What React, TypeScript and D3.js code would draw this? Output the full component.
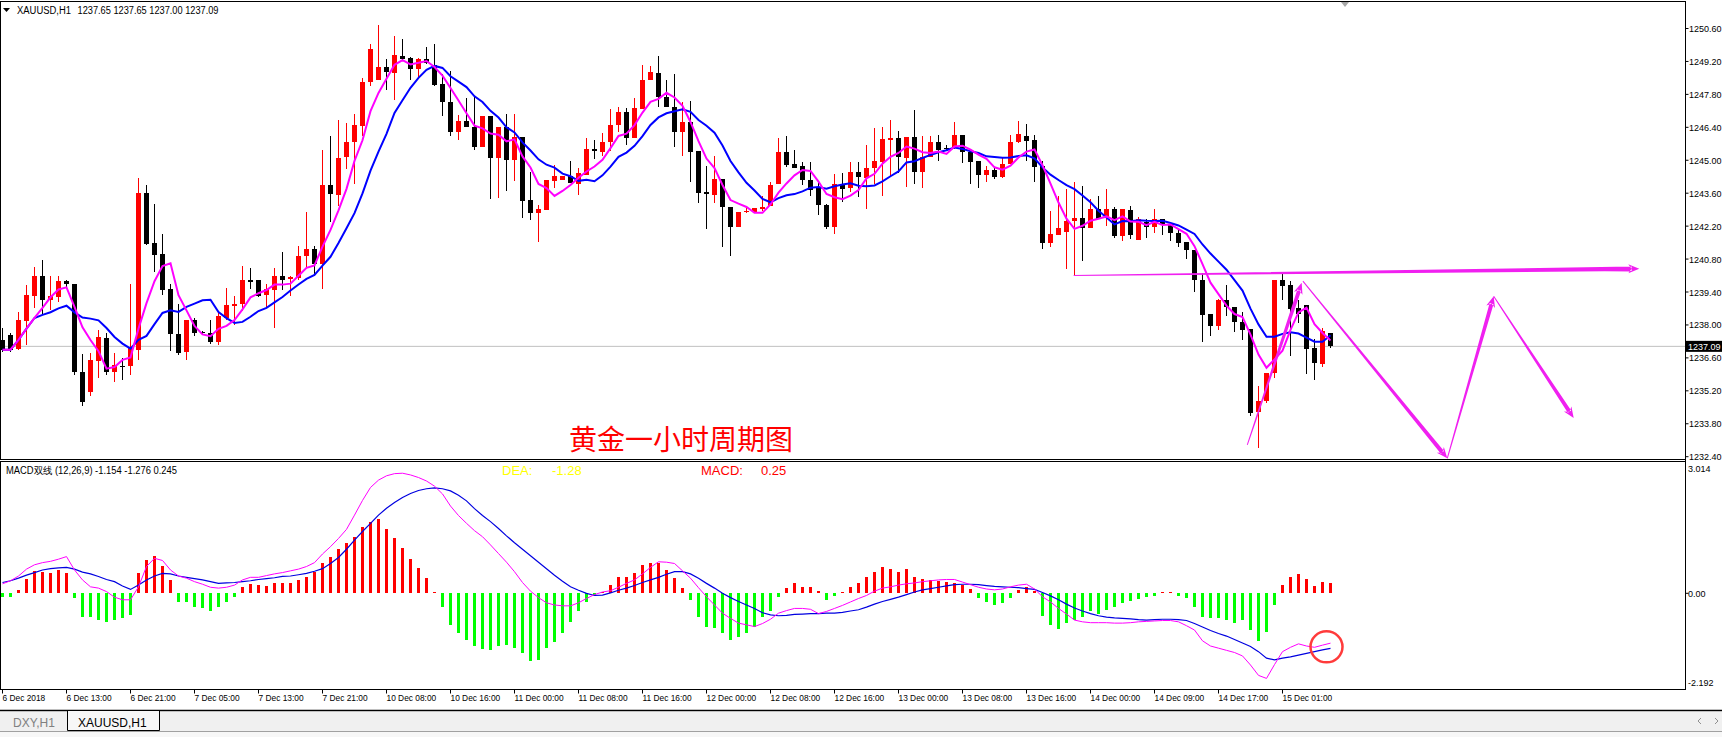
import * as d3 from "d3";

// H1 candles, 6 Dec 2018 05:00 .. 15 Dec 2018 (bar 0 .. 166)
const opens = [
  1237.38, 1237.59, 1236.98, 1238.16, 1239.25, 1240.10, 1239.08, 1239.18, 1239.85, 1239.76,
  1236.02, 1235.16, 1236.45, 1237.45, 1236.02, 1236.27, 1236.24, 1236.95, 1243.60, 1241.47,
  1241.00, 1239.51, 1237.63, 1236.83, 1238.19, 1237.70, 1237.67, 1237.26, 1238.30, 1238.80,
  1238.87, 1239.93, 1239.89, 1239.29, 1239.48, 1240.06, 1239.96, 1240.01, 1240.91, 1241.21,
  1240.57, 1243.94, 1243.51, 1245.14, 1245.77, 1246.47, 1248.33, 1248.42, 1248.97, 1248.72,
  1249.44, 1249.36, 1248.86, 1249.31, 1249.03, 1248.25, 1247.48, 1246.21, 1246.67, 1246.43,
  1245.57, 1246.89, 1245.11, 1246.43, 1245.02, 1246.00, 1243.30, 1242.76, 1242.88, 1244.10,
  1244.15, 1244.32, 1244.00, 1244.38, 1245.48, 1245.36, 1245.76, 1246.50, 1247.04, 1245.94,
  1247.18, 1248.39, 1248.70, 1247.68, 1247.25, 1246.21, 1246.61, 1245.38, 1243.63, 1243.51,
  1244.20, 1243.03, 1242.16, 1242.82, 1242.80, 1242.92, 1243.06, 1244.00, 1245.34, 1244.84,
  1244.74, 1244.18, 1243.80, 1243.09, 1242.16, 1243.95, 1243.84, 1244.48, 1244.25, 1244.67,
  1244.94, 1245.87, 1245.94, 1245.11, 1246.00, 1244.51, 1245.15, 1245.76, 1245.53, 1245.52,
  1246.07, 1245.36, 1244.95, 1244.38, 1244.58, 1244.27, 1244.84, 1245.76, 1246.04, 1245.86,
  1244.74, 1241.47, 1241.81, 1241.97, 1242.42, 1242.56, 1242.11, 1242.92, 1242.56, 1242.92,
  1241.78, 1242.88, 1241.61, 1242.38, 1242.18, 1242.52, 1242.28, 1241.92, 1241.52, 1241.18,
  1239.90, 1238.48, 1237.94, 1239.04, 1238.75, 1238.14, 1237.83, 1234.32, 1234.75, 1235.96,
  1239.93, 1239.68, 1238.73, 1238.86, 1237.02, 1236.35, 1237.65,
];
const highs = [
  1237.87, 1237.67, 1238.53, 1239.68, 1240.45, 1240.76, 1240.06, 1240.10, 1239.89, 1239.76,
  1236.78, 1236.82, 1237.80, 1237.67, 1236.82, 1236.61, 1239.76, 1244.24, 1243.94, 1243.13,
  1241.85, 1239.72, 1238.91, 1238.19, 1238.31, 1237.75, 1238.23, 1238.58, 1239.55, 1239.25,
  1240.49, 1240.40, 1239.93, 1239.72, 1240.40, 1241.08, 1240.07, 1241.34, 1242.80, 1241.35,
  1245.43, 1246.03, 1246.72, 1246.58, 1246.97, 1248.50, 1249.95, 1250.76, 1249.31, 1250.29,
  1250.14, 1249.40, 1249.36, 1249.82, 1249.95, 1248.67, 1248.81, 1246.92, 1247.65, 1247.71,
  1246.89, 1246.89, 1246.43, 1246.97, 1246.97, 1246.00, 1244.51, 1243.09, 1244.14, 1244.81,
  1244.32, 1244.96, 1244.67, 1245.94, 1245.86, 1246.14, 1247.18, 1247.25, 1247.22, 1247.64,
  1249.03, 1249.00, 1249.43, 1248.39, 1248.67, 1247.47, 1247.52, 1245.38, 1244.76, 1245.19,
  1244.20, 1243.03, 1242.82, 1243.06, 1242.95, 1243.49, 1244.08, 1245.94, 1246.02, 1245.42,
  1244.91, 1244.91, 1244.06, 1243.13, 1244.41, 1244.44, 1244.93, 1244.91, 1245.65, 1246.38,
  1246.40, 1246.71, 1246.26, 1246.00, 1247.14, 1246.02, 1246.04, 1246.07, 1245.65, 1246.61,
  1246.07, 1245.36, 1244.95, 1244.76, 1244.70, 1245.08, 1246.07, 1246.68, 1246.54, 1246.07,
  1244.98, 1242.85, 1243.46, 1243.77, 1244.08, 1243.89, 1243.34, 1243.48, 1243.77, 1243.03,
  1242.92, 1243.06, 1242.59, 1242.52, 1242.92, 1242.52, 1242.38, 1242.04, 1241.52, 1241.18,
  1240.22, 1238.48, 1239.11, 1239.68, 1238.75, 1238.54, 1237.83, 1235.39, 1235.96, 1239.90,
  1240.15, 1239.86, 1239.08, 1238.86, 1237.41, 1237.87, 1237.65,
];
const lows = [
  1236.85, 1236.86, 1236.95, 1237.16, 1238.70, 1238.48, 1238.62, 1238.97, 1239.63, 1235.88,
  1234.56, 1234.99, 1235.76, 1235.88, 1235.59, 1235.67, 1235.88, 1236.52, 1241.38, 1240.23,
  1239.29, 1236.91, 1236.74, 1236.49, 1237.55, 1237.63, 1237.21, 1237.16, 1238.23, 1238.01,
  1238.58, 1239.51, 1239.17, 1238.74, 1237.89, 1239.48, 1239.25, 1239.93, 1240.45, 1240.07,
  1239.51, 1242.36, 1243.06, 1244.62, 1243.98, 1246.04, 1248.17, 1248.39, 1248.00, 1247.58,
  1249.28, 1248.39, 1248.46, 1249.10, 1248.16, 1246.89, 1246.04, 1245.87, 1246.43, 1245.45,
  1245.57, 1243.34, 1243.39, 1243.69, 1244.10, 1242.53, 1242.45, 1241.52, 1242.88, 1243.80,
  1244.15, 1244.03, 1243.51, 1244.38, 1245.05, 1245.16, 1245.38, 1246.19, 1245.65, 1245.94,
  1247.18, 1248.39, 1247.25, 1247.25, 1245.55, 1245.16, 1244.06, 1243.20, 1242.07, 1243.20,
  1241.33, 1240.93, 1242.16, 1242.75, 1242.80, 1242.85, 1243.06, 1244.00, 1244.70, 1244.67,
  1243.95, 1243.49, 1242.66, 1242.07, 1241.85, 1243.23, 1243.66, 1243.42, 1242.92, 1243.98,
  1243.49, 1244.34, 1244.44, 1243.87, 1243.98, 1243.84, 1245.15, 1244.98, 1245.39, 1245.48,
  1244.87, 1244.01, 1243.84, 1244.06, 1244.20, 1244.23, 1244.84, 1245.72, 1244.96, 1244.08,
  1241.21, 1241.33, 1241.81, 1240.36, 1240.07, 1240.71, 1242.11, 1242.52, 1242.21, 1241.71,
  1241.57, 1241.64, 1241.61, 1241.71, 1241.89, 1241.82, 1241.57, 1241.33, 1240.79, 1239.39,
  1237.26, 1237.52, 1237.77, 1238.37, 1237.69, 1237.38, 1234.11, 1232.76, 1234.69, 1235.74,
  1239.05, 1236.66, 1238.09, 1235.91, 1235.64, 1236.21, 1237.00,
];
const closes = [
  1236.95, 1236.95, 1238.19, 1239.29, 1240.10, 1239.08, 1239.22, 1239.86, 1239.72, 1235.98,
  1234.73, 1236.52, 1237.47, 1236.02, 1236.31, 1236.25, 1237.04, 1243.60, 1241.43, 1240.97,
  1239.48, 1237.63, 1236.82, 1238.19, 1237.67, 1237.68, 1237.26, 1238.37, 1238.83, 1238.91,
  1239.93, 1239.82, 1239.25, 1239.51, 1240.06, 1239.93, 1240.03, 1240.91, 1241.21, 1240.57,
  1243.94, 1243.56, 1245.09, 1245.77, 1246.50, 1248.33, 1249.74, 1248.97, 1248.76, 1249.48,
  1249.31, 1248.86, 1249.31, 1249.14, 1248.20, 1247.48, 1246.21, 1246.68, 1246.43, 1245.57,
  1246.89, 1245.11, 1246.43, 1245.02, 1246.00, 1243.26, 1242.76, 1242.92, 1244.14, 1244.34,
  1244.32, 1244.03, 1244.45, 1245.48, 1245.38, 1245.76, 1246.50, 1247.04, 1245.96, 1247.21,
  1248.43, 1248.77, 1247.68, 1247.25, 1246.21, 1246.64, 1245.36, 1243.59, 1243.56, 1244.20,
  1243.03, 1242.16, 1242.82, 1242.86, 1242.95, 1243.03, 1243.94, 1245.34, 1244.81, 1244.67,
  1244.17, 1243.74, 1243.09, 1242.16, 1243.98, 1243.77, 1244.48, 1244.28, 1244.65, 1244.95,
  1245.90, 1245.94, 1245.12, 1246.00, 1244.51, 1245.15, 1245.76, 1245.45, 1245.48, 1246.07,
  1245.34, 1244.93, 1244.38, 1244.58, 1244.27, 1244.84, 1245.79, 1246.11, 1245.83, 1244.73,
  1241.50, 1241.85, 1242.10, 1242.42, 1242.56, 1242.14, 1242.92, 1242.52, 1242.92, 1241.78,
  1242.92, 1241.82, 1242.49, 1242.18, 1242.52, 1242.25, 1241.92, 1241.50, 1241.18, 1239.90,
  1238.44, 1237.97, 1239.05, 1238.75, 1238.11, 1237.80, 1234.25, 1234.78, 1235.96, 1239.90,
  1239.65, 1238.68, 1238.48, 1236.98, 1236.38, 1237.76, 1237.09,
];

// MACD(12,26,9): histogram, DIF (magenta), DEA (blue)
const macdHist = [
  -0.08, -0.08, 0.08, 0.32, 0.52, 0.50, 0.48, 0.54, 0.46, -0.12,
  -0.56, -0.54, -0.62, -0.66, -0.62, -0.58, -0.50, 0.48, 0.77, 0.86,
  0.63, 0.31, -0.19, -0.19, -0.31, -0.35, -0.42, -0.31, -0.19, -0.09,
  0.14, 0.22, 0.19, 0.17, 0.23, 0.25, 0.25, 0.31, 0.37, 0.50,
  0.71, 0.85, 1.02, 1.17, 1.31, 1.53, 1.64, 1.71, 1.48, 1.27,
  1.04, 0.79, 0.58, 0.35, 0.04, -0.32, -0.73, -0.93, -1.08, -1.23,
  -1.30, -1.31, -1.23, -1.20, -1.27, -1.39, -1.56, -1.54, -1.27, -1.12,
  -0.91, -0.66, -0.42, -0.19, -0.06, 0.04, 0.19, 0.37, 0.37, 0.46,
  0.66, 0.71, 0.69, 0.54, 0.35, 0.12, -0.15, -0.54, -0.79, -0.81,
  -0.91, -1.08, -1.00, -0.93, -0.77, -0.54, -0.42, -0.08, 0.13, 0.23,
  0.15, 0.15, 0.05, -0.15, -0.06, 0.04, 0.15, 0.23, 0.37, 0.50,
  0.60, 0.56, 0.50, 0.56, 0.37, 0.32, 0.31, 0.29, 0.27, 0.23,
  0.19, 0.09, -0.12, -0.19, -0.27, -0.23, -0.12, 0.08, 0.14, 0.05,
  -0.52, -0.73, -0.83, -0.69, -0.62, -0.54, -0.42, -0.48, -0.39, -0.31,
  -0.23, -0.17, -0.14, -0.09, -0.06, 0.03, 0.03, -0.06, -0.12, -0.31,
  -0.56, -0.58, -0.58, -0.62, -0.69, -0.62, -0.85, -1.10, -0.89, -0.27,
  0.19, 0.37, 0.45, 0.32, 0.17, 0.27, 0.245,
];
const difLine = [
  0.22, 0.29, 0.40, 0.56, 0.66, 0.71, 0.74, 0.79, 0.85, 0.54,
  0.31, 0.15, 0.12, 0.04, -0.09, -0.15, -0.15, 0.15, 0.62, 0.81,
  0.76, 0.54, 0.40, 0.35, 0.27, 0.21, 0.14, 0.12, 0.14, 0.19,
  0.31, 0.37, 0.37, 0.41, 0.45, 0.48, 0.52, 0.56, 0.62, 0.71,
  0.91, 1.08, 1.27, 1.48, 1.81, 2.15, 2.45, 2.62, 2.72, 2.77,
  2.78, 2.74, 2.68, 2.60, 2.48, 2.30, 2.02, 1.80, 1.62, 1.45,
  1.31, 1.12, 0.92, 0.72, 0.50, 0.25, 0.05, -0.10, -0.22, -0.27,
  -0.29, -0.29, -0.22, -0.12, -0.03, 0.03, 0.06, 0.14, 0.23, 0.31,
  0.45, 0.60, 0.73, 0.72, 0.69, 0.52, 0.35, 0.13, -0.08, -0.27,
  -0.46, -0.58, -0.69, -0.73, -0.77, -0.70, -0.60, -0.46, -0.40, -0.35,
  -0.35, -0.37, -0.47, -0.42, -0.35, -0.28, -0.20, -0.12, -0.05, 0.05,
  0.12, 0.15, 0.19, 0.22, 0.24, 0.27, 0.29, 0.31, 0.32, 0.32,
  0.26, 0.20, 0.14, 0.10, 0.08, 0.10, 0.15, 0.19, 0.21, 0.10,
  -0.08, -0.20, -0.35, -0.48, -0.62, -0.66, -0.68, -0.68, -0.68, -0.69,
  -0.69, -0.68, -0.66, -0.65, -0.64, -0.63, -0.63, -0.66, -0.75, -0.85,
  -1.10, -1.22, -1.27, -1.32, -1.37, -1.45, -1.66, -1.90, -1.97, -1.65,
  -1.35, -1.25, -1.17, -1.22, -1.25, -1.20, -1.154,
];
const deaLine = [
  0.25, 0.29, 0.35, 0.42, 0.48, 0.54, 0.57, 0.59, 0.60, 0.56,
  0.49, 0.45, 0.39, 0.32, 0.27, 0.17, 0.09, 0.19, 0.31, 0.40,
  0.46, 0.45, 0.40, 0.37, 0.34, 0.31, 0.27, 0.23, 0.24, 0.25,
  0.27, 0.29, 0.32, 0.34, 0.36, 0.39, 0.40, 0.43, 0.46, 0.51,
  0.57, 0.69, 0.83, 1.02, 1.23, 1.43, 1.62, 1.81, 1.97, 2.10,
  2.22, 2.31, 2.38, 2.42, 2.44, 2.42, 2.37, 2.27, 2.14, 1.96,
  1.80, 1.66, 1.50, 1.33, 1.17, 1.02, 0.87, 0.72, 0.57, 0.42,
  0.28, 0.15, 0.07, 0.00, -0.05, -0.04, 0.01, 0.07, 0.12, 0.18,
  0.25, 0.31, 0.37, 0.44, 0.50, 0.50, 0.45, 0.35, 0.23, 0.12,
  0.00, -0.10, -0.19, -0.27, -0.35, -0.45, -0.50, -0.52, -0.51, -0.49,
  -0.48, -0.47, -0.47, -0.46, -0.46, -0.44, -0.41, -0.38, -0.32, -0.25,
  -0.19, -0.14, -0.09, -0.03, 0.03, 0.08, 0.11, 0.14, 0.17, 0.20,
  0.21, 0.21, 0.20, 0.18, 0.16, 0.15, 0.14, 0.13, 0.11, 0.09,
  0.02, -0.06, -0.15, -0.25, -0.34, -0.41, -0.47, -0.52, -0.55, -0.57,
  -0.58, -0.59, -0.61, -0.62, -0.61, -0.60, -0.60, -0.61, -0.63, -0.70,
  -0.78, -0.86, -0.93, -0.99, -1.07, -1.15, -1.23, -1.35, -1.50, -1.54,
  -1.50, -1.47, -1.43, -1.39, -1.35, -1.31, -1.276,
];

// one time label every 8 bars
const timeLabels = [
  "6 Dec 2018", "6 Dec 13:00", "6 Dec 21:00", "7 Dec 05:00", "7 Dec 13:00", "7 Dec 21:00",
  "10 Dec 08:00", "10 Dec 16:00", "11 Dec 00:00", "11 Dec 08:00", "11 Dec 16:00",
  "12 Dec 00:00", "12 Dec 08:00", "12 Dec 16:00", "13 Dec 00:00", "13 Dec 08:00",
  "13 Dec 16:00", "14 Dec 00:00", "14 Dec 09:00", "14 Dec 17:00", "15 Dec 01:00",
];
const priceTicks = [
  1250.6, 1249.2, 1247.8, 1246.4, 1245.0, 1243.6, 1242.2, 1240.8, 1239.4, 1238.0,
  1236.6, 1235.2, 1233.8, 1232.4,
];
const macdTicks = [3.014, 0, -2.192];

// hand-drawn forecast arrows, [bar, price]
const arrows: [number, number][][] = [
  [[133.9, 1240.1], [204.6, 1240.39]],
  [[155.6, 1232.9], [162.4, 1239.79]],
  [[162.55, 1239.86], [180.6, 1232.33]],
  [[180.6, 1232.33], [186.4, 1239.22]],
  [[186.4, 1239.22], [196.4, 1234.04]],
];

const sma = (arr: number[], n: number) =>
  arr.map((_, i) => d3.mean(arr.slice(Math.max(0, i - n + 1), i + 1)) as number);

const fmt2 = (v: number) => (v + (v >= 0 ? 1e-9 : -1e-9)).toFixed(2);

function arrowPath(p0: number[], p1: number[], w0: number, w1: number) {
  const dx = p1[0] - p0[0], dy = p1[1] - p0[1];
  const len = Math.hypot(dx, dy);
  const ux = dx / len, uy = dy / len, nx = -uy, ny = ux;
  const head = 11, hw = 4.5;
  const sx = p1[0] - ux * head * 0.7, sy = p1[1] - uy * head * 0.7;
  const bx = p1[0] - ux * head, by = p1[1] - uy * head;
  const shaft = [
    [p0[0] + nx * w0 / 2, p0[1] + ny * w0 / 2],
    [sx + nx * w1 / 2, sy + ny * w1 / 2],
    [sx - nx * w1 / 2, sy - ny * w1 / 2],
    [p0[0] - nx * w0 / 2, p0[1] - ny * w0 / 2],
  ];
  const tip = [
    [p1[0], p1[1]],
    [bx + nx * hw, by + ny * hw],
    [sx, sy],
    [bx - nx * hw, by - ny * hw],
  ];
  const toD = (pts: number[][]) => "M" + pts.map(p => p.join(",")).join("L") + "Z";
  return toD(shaft) + toD(tip);
}

export default function App() {
  const width = 1722;
  const height = 737;
  const axisX = 1685.5;

  const x = d3.scaleLinear().domain([0, 166]).range([2.5, 1330.5]);
  const y = d3.scaleLinear().domain([1232.4, 1250.6]).range([456.7, 28.5]);
  const ym = d3.scaleLinear().domain([-2.192, 3.014]).range([688, 463.1]);

  const maFast = sma(closes, 5);
  const maSlow = sma(closes, 10);

  const priceLine = d3.line<number>().x((_, i) => x(i)).y(d => y(d));
  const macdLine = d3.line<number>().x((_, i) => x(i)).y(d => ym(d));

  const last = closes[closes.length - 1];
  const font = "'Liberation Sans', Arial, sans-serif";

  return (
    <>
      <style>{"body{margin:0;overflow:hidden;background:#fff}"}</style>
      <svg width={width} height={height} style={{ display: "block" }} fontFamily={font}>
        <rect x={0} y={0} width={width} height={height} fill="#ffffff" />

        {/* main panel */}
        <rect x={0.5} y={1.5} width={axisX - 0.5} height={458} fill="none" stroke="#000" />
        <line x1={1} x2={axisX} y1={y(last)} y2={y(last)} stroke="#c0c0c0" />
        <polygon points="1341,2 1349,2 1345,7" fill="#a8a8a8" />

        <g shapeRendering="crispEdges">
          {closes.map((c, i) => {
            const o = opens[i];
            const col = c > o ? "#ff0000" : "#000000";
            const top = y(Math.max(o, c));
            const bh = Math.max(1, Math.abs(y(o) - y(c)));
            return (
              <g key={i}>
                <line x1={x(i)} x2={x(i)} y1={y(highs[i])} y2={y(lows[i])} stroke={col} />
                <rect x={x(i) - 2.5} y={top} width={5} height={bh} fill={col} />
              </g>
            );
          })}
        </g>

        <path d={priceLine(maSlow) || ""} fill="none" stroke="#0000ff" strokeWidth={2} />
        <path d={priceLine(maFast) || ""} fill="none" stroke="#ff00ff" strokeWidth={2} />

        {arrows.map((a, k) => (
          <path
            key={k}
            d={arrowPath([x(a[0][0]), y(a[0][1])], [x(a[1][0]), y(a[1][1])], 1, k === 0 ? 4.5 : 4)}
            fill="#f020f0"
          />
        ))}

        <text x={569} y={450} fill="#ff0000" fontSize={28} fontFamily="'Noto Sans CJK SC', sans-serif">
          黄金一小时周期图
        </text>

        <polygon points="3,8 10,8 6.5,12" fill="#000" />
        <text x={17} y={14} fontSize={10} textLength={54} lengthAdjust="spacingAndGlyphs">XAUUSD,H1</text>
        <text x={77.5} y={14} fontSize={10} textLength={141} lengthAdjust="spacingAndGlyphs">
          1237.65 1237.65 1237.00 1237.09
        </text>

        {/* price axis */}
        <line x1={axisX} x2={axisX} y1={1} y2={689.5} stroke="#000" />
        {priceTicks.map(t => (
          <g key={t}>
            <line x1={axisX} x2={axisX + 3} y1={y(t)} y2={y(t)} stroke="#000" />
            <text x={1689} y={y(t) + 3.5} fontSize={9}>{t.toFixed(2)}</text>
          </g>
        ))}
        <rect x={1686} y={y(last) - 5.5} width={36} height={11} fill="#000" />
        <text x={1688} y={y(last) + 3.5} fontSize={9} fill="#fff">{last.toFixed(2)}</text>

        {/* MACD panel */}
        <rect x={0.5} y={461.5} width={axisX - 0.5} height={228} fill="none" stroke="#000" />
        <g shapeRendering="crispEdges">
          {macdHist.map((v, i) => (
            <rect
              key={i}
              x={x(i) - 1.5}
              y={ym(Math.max(0, v))}
              width={3}
              height={Math.max(1, Math.abs(ym(v) - ym(0)))}
              fill={v >= 0 ? "#ff0000" : "#00ff00"}
            />
          ))}
        </g>
        <path d={macdLine(deaLine) || ""} fill="none" stroke="#0000e0" strokeWidth={1.2} />
        <path d={macdLine(difLine) || ""} fill="none" stroke="#ff00ff" strokeWidth={1} />
        <ellipse cx={x(165.5)} cy={ym(-1.24)} rx={16} ry={15.5} fill="none" stroke="#ff3b3b" strokeWidth={2.5} />

        <text x={6} y={474} fontSize={10} textLength={171} lengthAdjust="spacingAndGlyphs">
          MACD双线 (12,26,9) -1.154 -1.276 0.245
        </text>
        <text x={502} y={475} fontSize={13} fill="#ffff00">DEA:</text>
        <text x={552} y={475} fontSize={13} fill="#ffff00">{fmt2(deaLine[deaLine.length - 1])}</text>
        <text x={701} y={475} fontSize={13} fill="#ff0000">MACD:</text>
        <text x={761} y={475} fontSize={13} fill="#ff0000">{fmt2(macdHist[macdHist.length - 1])}</text>

        {macdTicks.map((t, k) => (
          <g key={t}>
            {k === 1 && <line x1={axisX} x2={axisX + 3} y1={ym(t)} y2={ym(t)} stroke="#000" />}
            <text x={1688} y={k === 0 ? 472 : k === 2 ? 686 : ym(t) + 3.5} fontSize={9}>
              {k === 1 ? "0.00" : t.toString()}
            </text>
          </g>
        ))}

        {/* time axis */}
        {timeLabels.map((lab, k) => {
          const tx = x(k * 8);
          return (
            <g key={lab}>
              <line x1={tx} x2={tx} y1={689.5} y2={693.5} stroke="#000" />
              <text transform={`translate(${tx},701) scale(0.88,1)`} fontSize={9.5}>{lab}</text>
            </g>
          );
        })}

        {/* terminal tab strip */}
        <rect x={0} y={712} width={width} height={25} fill="#f0f0f0" />
        <line x1={0} x2={width} y1={710.5} y2={710.5} stroke="#000" strokeWidth={1.5} />
        <line x1={0} x2={width} y1={731.5} y2={731.5} stroke="#a0a0a0" />
        <rect x={0} y={732} width={width} height={5} fill="#f7f7f7" />
        <path d="M67.5,711V730.5H159.5V711" fill="#f7f7f7" stroke="#000" />
        <text x={13} y={727} fontSize={12} fill="#808080">DXY,H1</text>
        <text x={78} y={727} fontSize={12} fill="#000">XAUUSD,H1</text>
        <path d="M1701,718L1698,721L1701,724M1715,718L1718,721L1715,724" fill="none" stroke="#909090" />
      </svg>
    </>
  );
}
